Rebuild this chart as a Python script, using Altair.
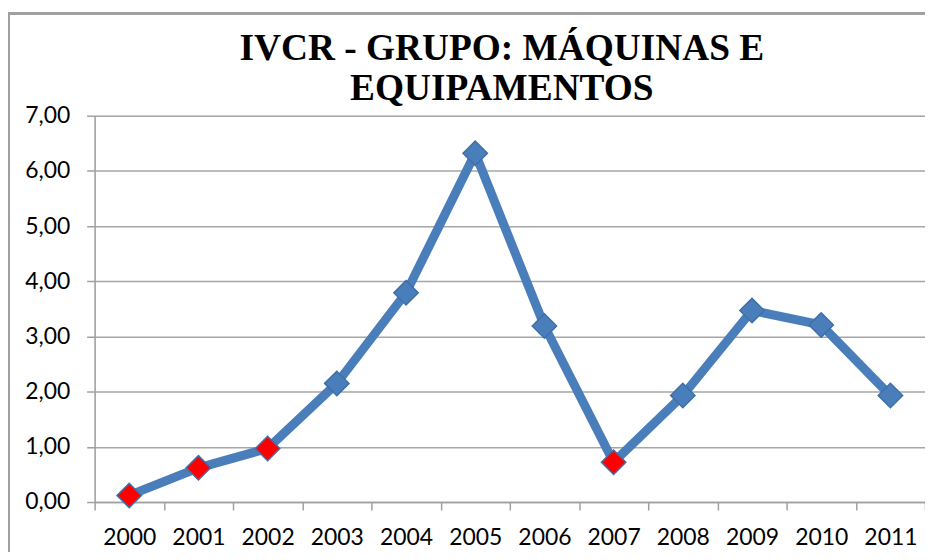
import altair as alt
import pandas as pd

anos = ["2000", "2001", "2002", "2003", "2004", "2005", "2006", "2007", "2008", "2009", "2010", "2011"]
valores = [0.12, 0.62, 0.97, 2.15, 3.79, 6.32, 3.19, 0.72, 1.93, 3.47, 3.21, 1.93]
destaque = ["sim", "sim", "sim", "não", "não", "não", "não", "sim", "não", "não", "não", "não"]
titulo_linha1 = ["IVCR - GRUPO: MÁQUINAS E"]
titulo_linha2 = ["EQUIPAMENTOS"]

df = pd.DataFrame({"ano": anos, "valor": valores, "destaque": destaque})

x = alt.X("ano:O", sort=anos, title=None,
          scale=alt.Scale(paddingInner=0, paddingOuter=0),
          axis=alt.Axis(labelAngle=0, tickBand="extent", grid=False,
                        domainColor="#A0A0A0", tickColor="#A0A0A0", tickSize=8,
                        domainWidth=1.5, tickWidth=1.5,
                        labelFont="Lato", labelFontSize=23, labelColor="#000000",
                        labelPadding=17))
y = alt.Y("valor:Q", title=None,
          scale=alt.Scale(domain=[0, 7], nice=False),
          axis=alt.Axis(values=[0, 1, 2, 3, 4, 5, 6, 7],
                        labelExpr="replace(format(datum.value, '.2f'), '.', ',')",
                        grid=True, gridColor="#A6A6A6", gridWidth=1.5,
                        domainColor="#A0A0A0", tickColor="#A0A0A0", tickSize=8,
                        domainWidth=1.5, tickWidth=1.5,
                        labelFont="Lato", labelFontSize=23, labelColor="#000000",
                        labelPadding=17))

base = alt.Chart(df)

linha = base.mark_line(color="#4A7EBB", strokeWidth=9, strokeJoin="round").encode(x=x, y=y)

pontos = base.mark_point(shape="diamond", filled=True, size=600, opacity=1,
                         stroke="#3F6FA8", strokeWidth=1.5).encode(
    x=x, y=y,
    fill=alt.Fill("destaque:N", scale=alt.Scale(domain=["sim", "não"], range=["#FF0000", "#4A7EBB"]),
                  legend=None),
)

borda = alt.Chart(df).mark_rect(fill=None, stroke="#A0A0A0", strokeWidth=2).encode(
    x=alt.value(-86), x2=alt.value(900), y=alt.value(-103), y2=alt.value(520)
)

estilo_tit = dict(font="Liberation Serif", fontSize=37.5, fontWeight="bold", color="#000000",
                  align="center", baseline="middle")
tit1 = alt.Chart(pd.DataFrame({"t": titulo_linha1})).mark_text(**estilo_tit).encode(
    text="t:N", x=alt.value(409), y=alt.value(-67))
tit2 = alt.Chart(pd.DataFrame({"t": titulo_linha2})).mark_text(**estilo_tit).encode(
    text="t:N", x=alt.value(409), y=alt.value(-27))

chart = alt.layer(borda, linha, pontos, tit1, tit2).properties(
    width=834, height=388,
    autosize=alt.AutoSizeParams(type="none"),
    padding={"left": 87, "top": 107, "right": 0, "bottom": 49},
).configure_view(stroke=None).configure(background="#FFFFFF")

chart.save("out.html", embed_options={"renderer": "svg", "actions": False})
